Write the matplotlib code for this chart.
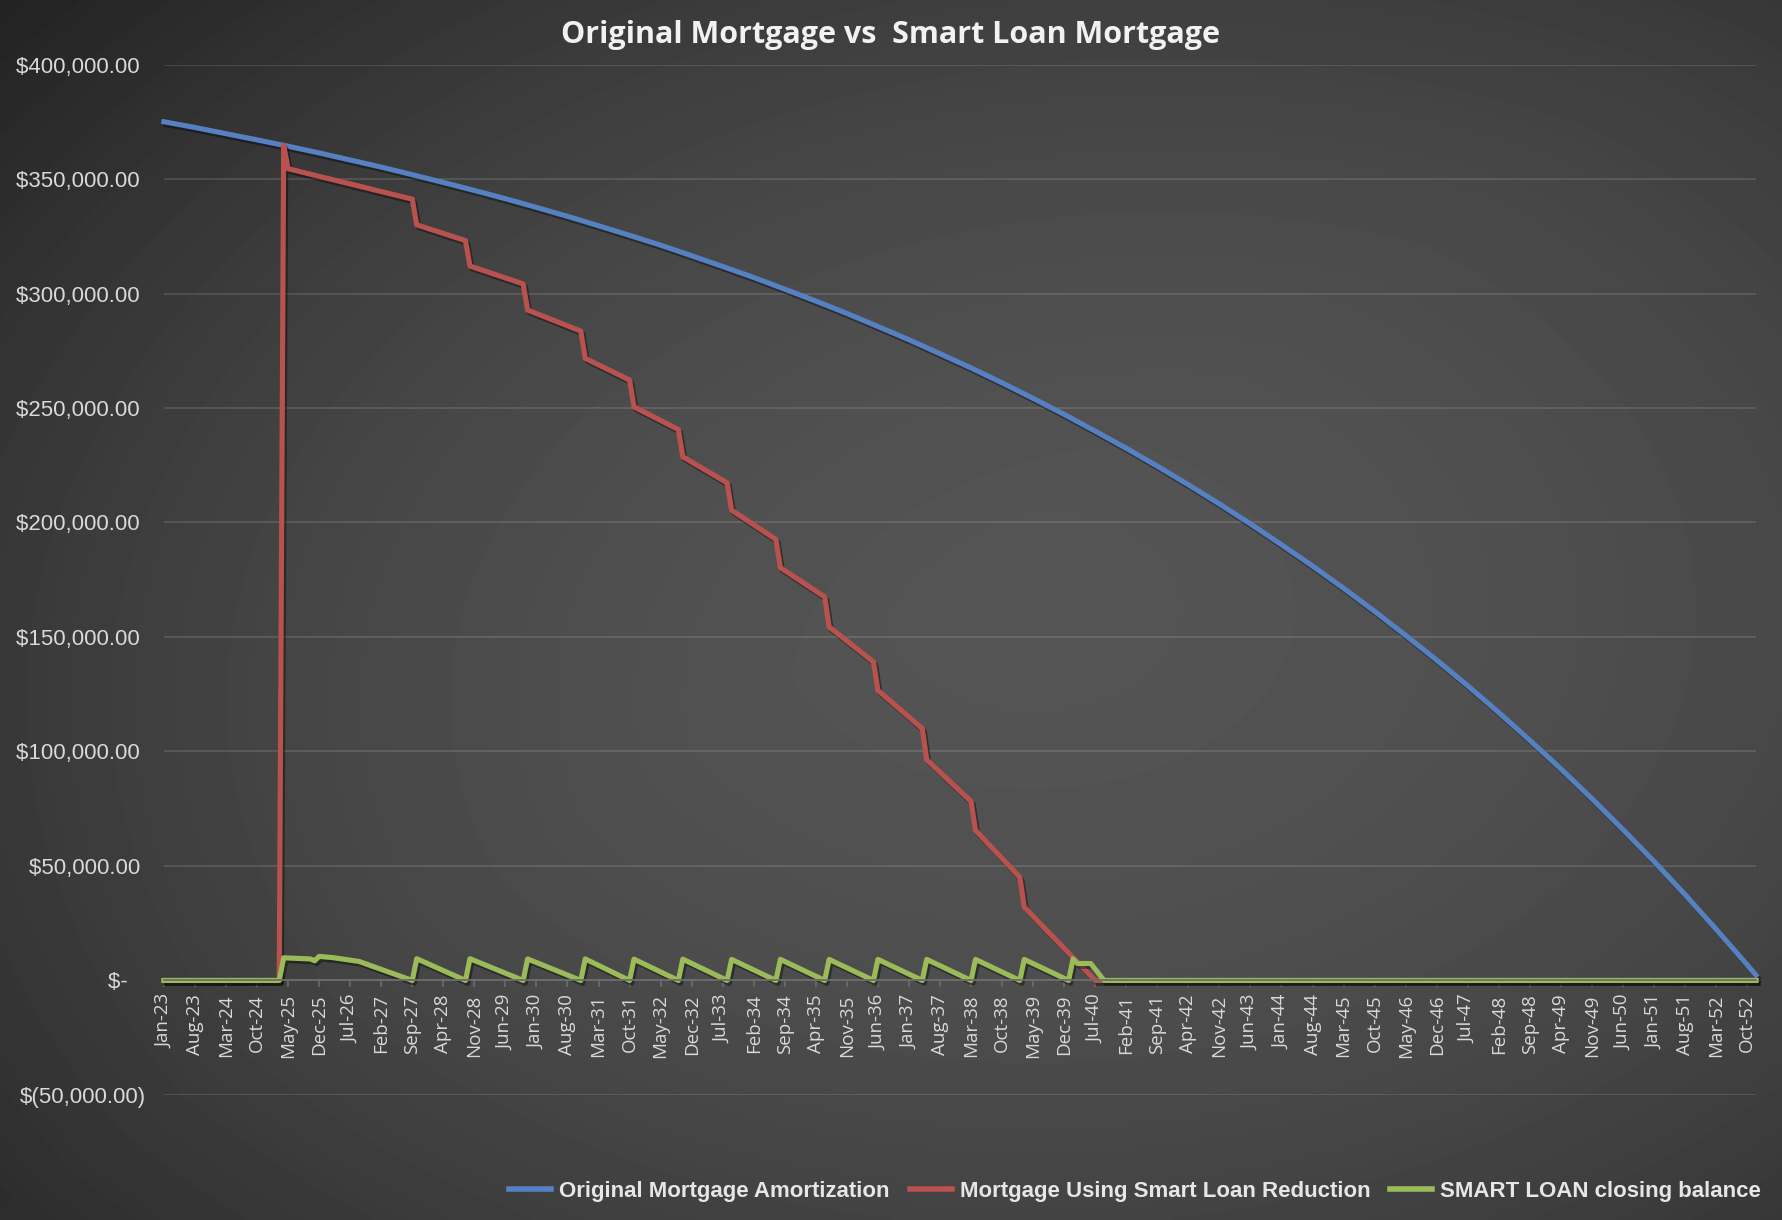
import numpy as np
import pandas as pd
import matplotlib
matplotlib.use("Agg")
import matplotlib.pyplot as plt
from matplotlib import patheffects as pe
from matplotlib.ticker import FixedLocator

# monthly categories Jan-23 .. Dec-52, labelled every 7th month
months = pd.date_range("2023-01-01", periods=360, freq="MS")
tick_idx = list(range(0, 358, 7))
tick_labels = [months[i].strftime("%b-%y") for i in tick_idx]

# Original Mortgage Amortization (read at each labelled month + last month)
blue_x = tick_idx + [359]
blue_y = [375000, 372500, 369800, 367100, 364300, 361400, 358300, 355200, 351900,
          348500, 345000, 341400, 337600, 333700, 329600, 325400, 321100, 316500,
          311800, 307000, 301900, 296700, 291300, 285600, 279800, 273700, 267500,
          261000, 254200, 247200, 239900, 232400, 224600, 216500, 208100, 199400,
          190300, 181000, 171300, 161200, 150700, 139900, 128700, 117000, 104900,
          92400, 79400, 65900, 52000, 37500, 22400, 6900, 2300]

# Mortgage Using Smart Loan Reduction (breakpoints)
red_x = [0, 26, 27, 28, 56, 57, 68, 69, 81, 82, 94, 95, 105, 106, 116, 117,
         127, 128, 138, 139, 149, 150, 160, 161, 171, 172, 182, 183, 193, 194,
         202, 210, 359]
red_y = [0, 0, 364700, 354500, 341200, 330000, 323100, 312000, 304200, 292800,
         283600, 271700, 262200, 250500, 240600, 228700, 217300, 205400, 192600,
         180300, 167500, 154400, 139100, 126700, 110000, 96400, 78200, 65600,
         45100, 32000, 16000, 0, 0]

# SMART LOAN closing balance (breakpoints)
green_x = [0, 26, 27, 33, 34, 35, 38, 44, 56, 57, 68, 69, 81, 82, 94, 95, 105,
           106, 116, 117, 127, 128, 138, 139, 149, 150, 160, 161, 171, 172, 182,
           183, 193, 194, 204, 205, 206, 209, 212, 359]
green_y = [0, 0, 9900, 9400, 8600, 10500, 10000, 8300, 0, 9500, 0, 9500, 0,
           9400, 0, 9400, 0, 9300, 0, 9300, 0, 9200, 0, 9200, 0, 9200, 0, 9200,
           0, 9200, 0, 9200, 0, 9200, 0, 9400, 7400, 7400, 0, 0]

y_ticks = [-50000, 0, 50000, 100000, 150000, 200000, 250000, 300000, 350000, 400000]
y_labels = ["$(50,000.00)", "$-   ", "$50,000.00 ", "$100,000.00 ", "$150,000.00 ",
            "$200,000.00 ", "$250,000.00 ", "$300,000.00 ", "$350,000.00 ", "$400,000.00 "]

series_names = ["Original Mortgage Amortization", "Mortgage Using Smart Loan Reduction",
                "SMART LOAN closing balance"]
colors = ["#5580C2", "#B9524E", "#9BBB59"]

fig = plt.figure(figsize=(17.82, 12.2), dpi=100)

# dark radial background
bg = fig.add_axes([0, 0, 1, 1], zorder=-10)
bg.axis("off")
yy, xx = np.mgrid[0:1:300j, 0:1:440j]
r = np.sqrt(((xx - 0.58) / 0.6) ** 2 + ((yy - 0.5) / 0.6) ** 2)
r = np.clip(r / 1.25, 0, 1)
v = 0.33 - 0.15 * r ** 2.0 - 0.04 * np.clip(1 - (xx + yy), 0, 1)
bg.imshow(v, cmap="gray", vmin=0, vmax=1, extent=[0, 1, 0, 1], aspect="auto",
          interpolation="bicubic")
bg.set_xlim(0, 1)
bg.set_ylim(0, 1)

ax = fig.add_axes([0.092, 0.1025, 0.8934, 0.8446])
ax.set_facecolor("none")

shadow = [pe.SimpleLineShadow(offset=(1.5, -2), shadow_color="black", alpha=0.4),
          pe.Normal()]
for xs, ys, c, name in zip([blue_x, red_x, green_x], [blue_y, red_y, green_y],
                           colors, series_names):
    ax.plot(xs, ys, color=c, lw=3.7, label=name, solid_joinstyle="round",
            path_effects=shadow, clip_on=False)

ax.set_xlim(0, 359)
ax.set_ylim(-50000, 400000)

for s in ["top", "right", "left"]:
    ax.spines[s].set_visible(False)
ax.spines["bottom"].set_position(("data", 0))
ax.spines["bottom"].set_color("#6c6c6c")
ax.spines["bottom"].set_linewidth(1.3)

ax.yaxis.set_major_locator(FixedLocator(y_ticks))
ax.set_yticklabels(y_labels, fontsize=16, color="#d9d9d9", family="Liberation Sans")
ax.tick_params(axis="y", length=0, pad=13)
ax.yaxis.grid(True, color="#ffffff", alpha=0.13, lw=1.3)
ax.set_axisbelow(True)

ax.set_xticks(tick_idx)
ax.set_xticklabels(tick_labels, rotation=90, fontsize=13.5, color="#d9d9d9",
                   family="Open Sans", va="top", ha="center")
ax.tick_params(axis="x", length=5, width=1.2, color="#6c6c6c", pad=5)

fig.text(0.4996, 0.971, "Original Mortgage vs  Smart Loan Mortgage", ha="center",
         va="center", fontsize=22, fontweight="bold", color="#f2f2f2", family="Open Sans")

leg = fig.legend(loc="center", bbox_to_anchor=(0.637, 0.0235), ncol=3, frameon=False,
                 prop={"family": "Liberation Sans", "weight": "bold", "size": 16},
                 handlelength=1.9, handletextpad=0.35, columnspacing=0.9)
for t in leg.get_texts():
    t.set_color("#e6e6e6")
for h in leg.legend_handles:
    h.set_linewidth(4)
    h.set_path_effects([])

fig.savefig("out.png", dpi=100)
